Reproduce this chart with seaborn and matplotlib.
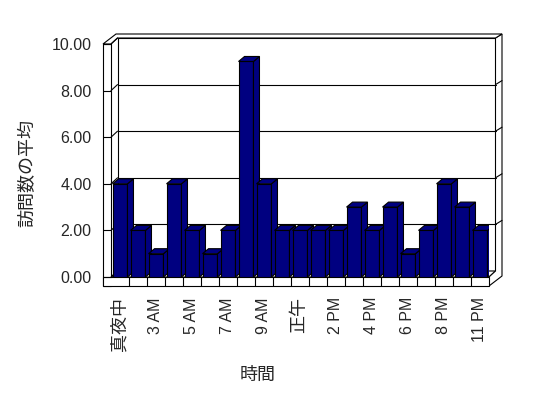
import matplotlib
matplotlib.use('Agg')
import matplotlib.pyplot as plt
from matplotlib.patches import Polygon, Rectangle
import seaborn as sns
import pandas as pd

# data (21 hour categories, every 2nd one labelled)
hours = ['真夜中', '1 AM', '3 AM', '4 AM', '5 AM', '6 AM', '7 AM', '8 AM', '9 AM', '10 AM',
         '正午', '1 PM', '2 PM', '3 PM', '4 PM', '5 PM', '6 PM', '7 PM', '8 PM', '9 PM', '11 PM']
visits = [4, 2, 1, 4, 2, 1, 2, 9.25, 4, 2, 2, 2, 2, 3, 2, 3, 1, 2, 4, 3, 2]
y_ticks = [0, 2, 4, 6, 8, 10]
x_label = '時間'
y_label = '訪問数の平均'

navy = '#000080'

sns.set_style('white')
plt.rcParams['font.family'] = ['Liberation Sans', 'Noto Sans CJK JP']

W, H = 548, 398
fig = plt.figure(figsize=(W / 100, H / 100), dpi=100)
ax = fig.add_axes([111 / W, (H - 277) / H, 378 / W, 233 / H])

df = pd.DataFrame({'hour': hours, 'visits': visits})
sns.barplot(data=df, x='hour', y='visits', order=hours, color=navy, saturation=1,
            width=0.83, edgecolor='black', linewidth=0.8, ax=ax, zorder=3)

x0, x1 = -0.5, len(hours) - 0.5
ymax = y_ticks[-1]
ax.set_xlim(x0, x1)
ax.set_ylim(0, ymax)
ax.set_facecolor('none')
for s in ax.spines.values():
    s.set_visible(False)
ax.set_xlabel('')
ax.set_ylabel('')

# pixel -> data unit sizes
px = (x1 - x0) / 378
py = ymax / 233

# 3d look for the bars
bdx, bdy = 6 * px, 5 * py
for i, p in enumerate(ax.patches):
    bx, bw, bh = p.get_x(), p.get_width(), p.get_height()
    p.set_zorder(3 + 2 * i)
    side = Polygon([(bx + bw, 0), (bx + bw + bdx, bdy), (bx + bw + bdx, bh + bdy), (bx + bw, bh)],
                   closed=True, facecolor=navy, edgecolor='black', lw=0.8, zorder=4 + 2 * i)
    top = Polygon([(bx, bh), (bx + bdx, bh + bdy), (bx + bw + bdx, bh + bdy), (bx + bw, bh)],
                  closed=True, facecolor=navy, edgecolor='black', lw=0.8, zorder=4 + 2 * i)
    ax.add_patch(side)
    ax.add_patch(top)

# walls and floor
d1x, d1y = 6.5 * px, 6 * py
d2x, d2y = 13 * px, 10 * py
lw_x = x0 - 8 * px
fb = -9 * py
kw = dict(facecolor='white', edgecolor='black', lw=0.8, clip_on=False)
lk = dict(color='black', lw=0.8, clip_on=False)

ax.add_patch(Rectangle((x0 + d1x, d1y), x1 - x0, ymax, zorder=0, **kw))
ax.add_patch(Polygon([(x0, 0), (x1, 0), (x1 + d1x, d1y), (x0 + d1x, d1y)], zorder=0.5, **kw))
ax.add_patch(Polygon([(x1, fb), (x1 + d2x, fb + d2y), (x1 + d2x, ymax + d2y),
                      (x1 + d1x, ymax + d1y), (x1 + d1x, d1y), (x1, 0)], zorder=0.5, **kw))
ax.add_patch(Polygon([(lw_x, ymax), (lw_x + d2x, ymax + d2y), (x1 + d2x, ymax + d2y),
                      (x1 + d1x, ymax + d1y), (x0 + d1x, ymax + d1y), (x0, ymax)], zorder=0.5, **kw))
ax.add_patch(Rectangle((lw_x, fb), x0 - lw_x, ymax - fb, zorder=1, **kw))
ax.add_patch(Rectangle((lw_x, fb), x1 - lw_x, -fb, zorder=1, **kw))

for v in y_ticks:
    ax.plot([lw_x, x0], [v, v], zorder=1.5, **lk)
    ax.plot([x0, x0 + d1x], [v, v + d1y], zorder=1.5, **lk)
    if 0 < v < ymax:
        ax.plot([x0 + d1x, x1 + d1x], [v + d1y, v + d1y], zorder=0.8, **lk)
        ax.plot([x1 + d1x, x1 + d2x], [v + d1y, v + d2y], zorder=0.8, **lk)
for i in range(len(hours) - 1):
    ax.plot([i + 0.5, i + 0.5], [fb, 0], zorder=1.5, **lk)

ax.set_yticks(y_ticks)
ax.set_yticklabels([f'{v:.2f}' for v in y_ticks])
ax.set_xticks(range(0, len(hours), 2))
ax.set_xticklabels(hours[::2], rotation=90, va='top', ha='center')
ax.tick_params(axis='y', length=0, pad=14, labelsize=11.5)
ax.tick_params(axis='x', length=0, pad=14.4, labelsize=11.5)
for t in ax.get_xticklabels():
    if not t.get_text()[0].isdigit():
        t.set_fontsize(13)

fig.text(28 / W, 1 - 173 / H, y_label, rotation=90, ha='center', va='center', fontsize=13)
fig.text(258 / W, 1 - 375 / H, x_label, ha='center', va='center', fontsize=13)

fig.savefig('out.png', dpi=100)
